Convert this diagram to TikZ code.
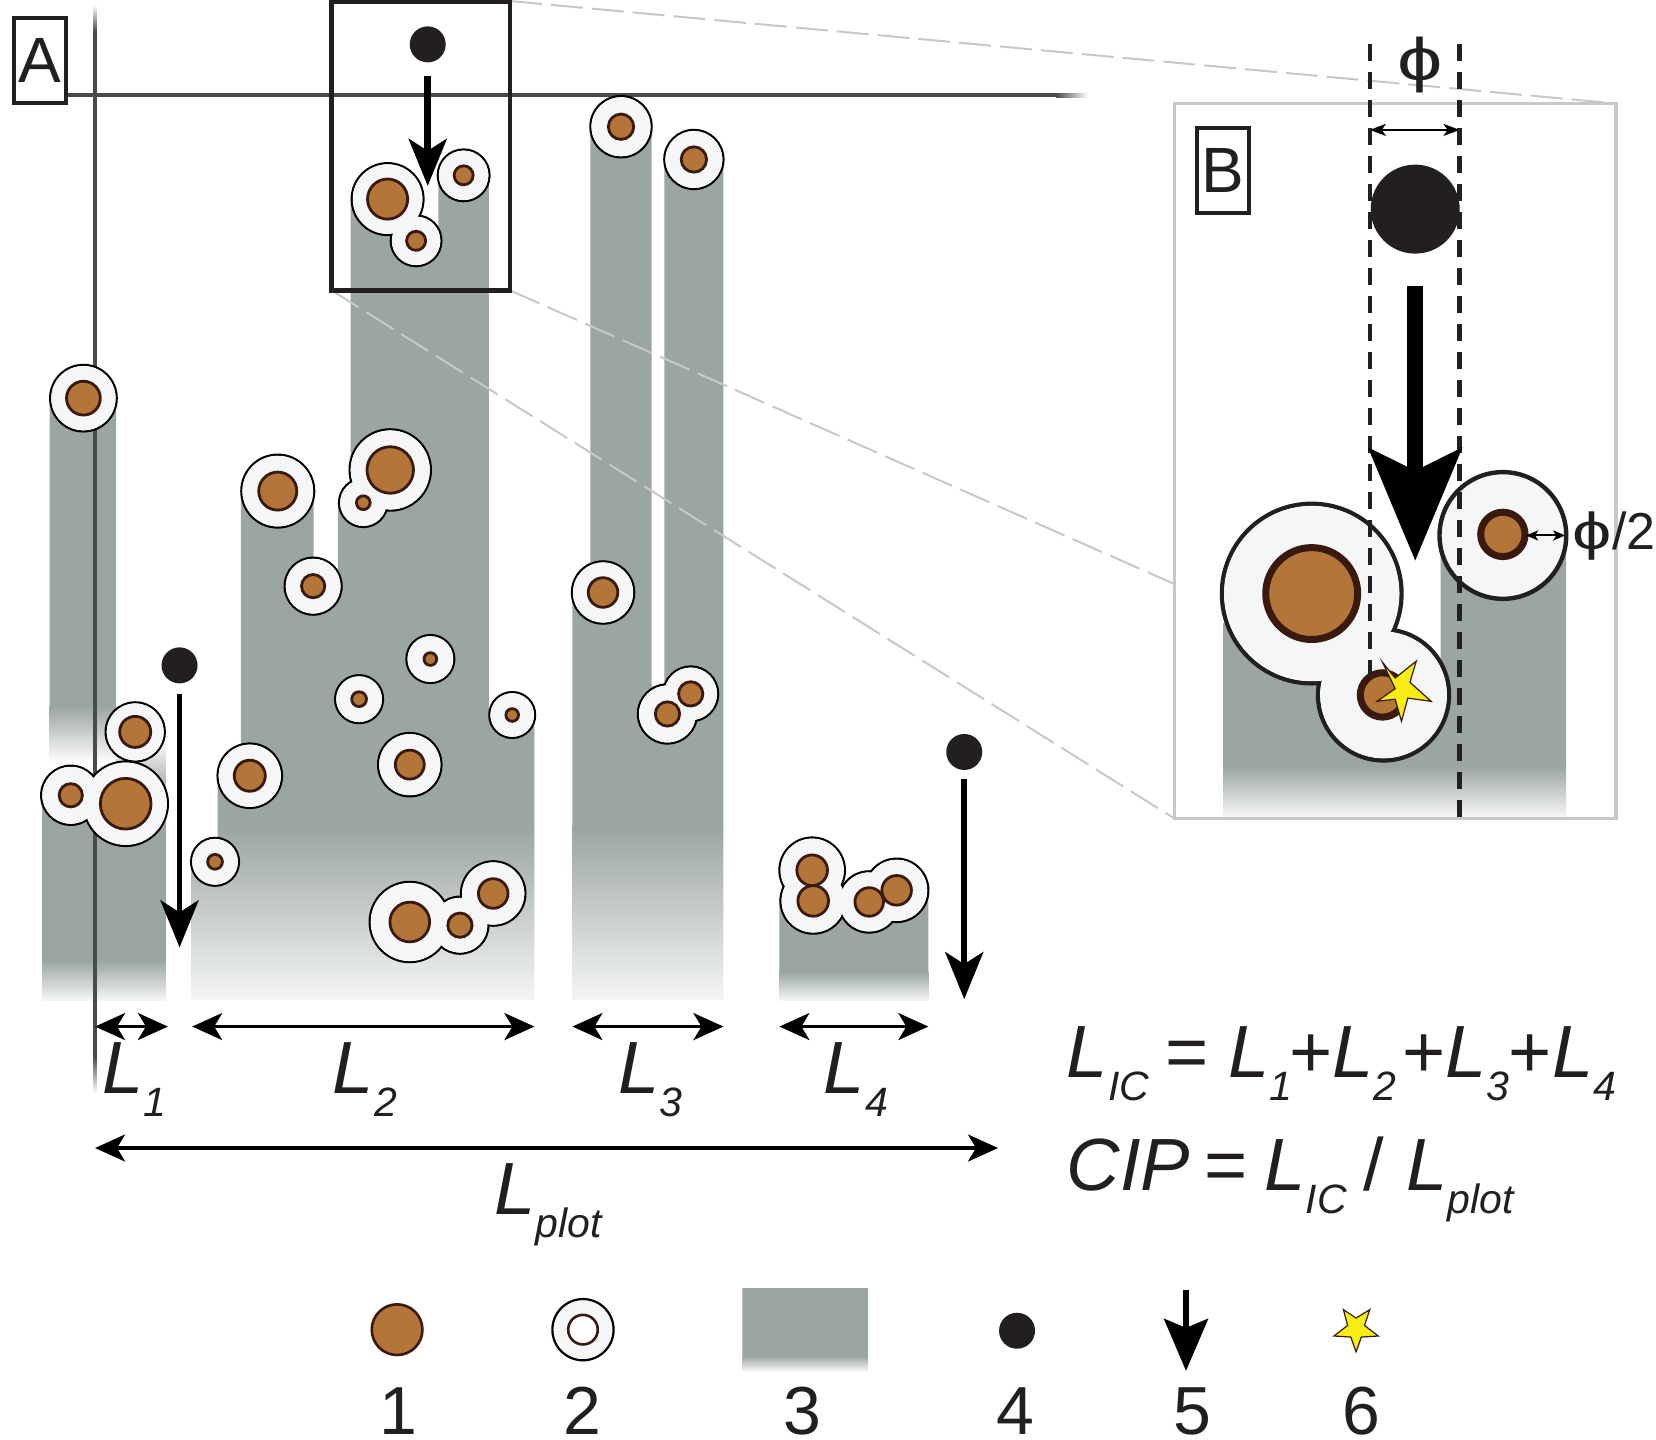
\documentclass[tikz,border=0pt]{standalone}
\usepackage{fontspec}
\setmainfont{Liberation Sans}
\usetikzlibrary{arrows.meta}
\definecolor{colgray}{HTML}{9BA5A1}
\definecolor{colfade}{HTML}{F4F6F5}
\definecolor{bubfill}{HTML}{F4F6F8}
\definecolor{brownc}{HTML}{B37538}
\definecolor{brownd}{HTML}{3A1A0E}
\definecolor{ballc}{HTML}{231F20}
\definecolor{linec}{HTML}{4A4A4A}
\definecolor{dashc}{HTML}{C8C8C8}
\definecolor{starc}{HTML}{F7EC13}
\newcommand{\Ls}[1]{\textit{L}\raisebox{-23pt}{\fontsize{41}{41}\selectfont\textit{#1}}}
\newcommand{\col}[4][colfade]{\begin{scope}\clip #2;
  \fill[colgray] (0,0) rectangle (1568,#3+1);
  \shade[top color=colgray,bottom color=#1] (0,#3) rectangle (1568,#4);
  \end{scope}}
\newcommand{\phiglyph}{\scalebox{1.35}[1]{ϕ}}
\tikzset{
  outer/.style={draw=black,line width=2.2pt,fill=bubfill},
  outerfill/.style={fill=bubfill},
  inner/.style={draw=brownd,line width=2.8pt,fill=brownc},
  ball/.style={circle,fill=ballc,inner sep=0pt},
  dimarrow/.style={line width=3.2pt,{Stealth[length=30pt,width=27pt,inset=8pt]}-{Stealth[length=30pt,width=27pt,inset=8pt]}},
  downarrow/.style={line width=5.6pt,-{Stealth[length=47pt,width=38pt,inset=12pt]}},
  thinarrow/.style={line width=2pt,{Stealth[length=16pt,width=12pt,inset=4pt]}-{Stealth[length=16pt,width=12pt,inset=4pt]}},
  biglabel/.style={font=\fontsize{74}{74}\selectfont,anchor=base west,inner sep=0pt,text=ballc},
  numlabel/.style={font=\fontsize{68}{68}\selectfont,anchor=base,inner sep=0pt,text=ballc},
  panel/.style={draw=ballc,fill=white,inner sep=0pt,font=\fontsize{64}{64}\selectfont,text=ballc},
  leader/.style={draw=dashc,line width=2pt,dash pattern=on 32pt off 9pt},
  phidash/.style={draw=ballc,line width=4.6pt,dash pattern=on 17pt off 11pt},
  phitext/.style={font=\fontsize{60}{60}\selectfont,inner sep=0pt,text=ballc},
}
\begin{document}
\begin{tikzpicture}[x=1.0561pt,y=-1.0561pt]
\useasboundingbox (0,0) rectangle (1568,1363);
% columns
\col[white]{(47,377) rectangle (110,724)}{669}{722}
\col{(40,750) -- (157,750) -- (157,947) -- (40,947) -- cycle}{909}{947}
\shade[top color=white,bottom color=colgray] (110,700) rectangle (157,751);
\col{(332,190) -- (394,190) -- (394,228) -- (415,228) -- (415,166) -- (463,166) -- (463,677) -- (506,677) -- (506,947) -- (181,947) -- (181,816) -- (206,816) -- (206,734) -- (228,734) -- (228,465) -- (297,465) -- (297,555) -- (320,555) -- (320,476) -- (332,476) -- cycle}{783}{947}
\col{(559,120) -- (617,120) -- (617,650) -- (629,650) -- (629,151) -- (685,151) -- (685,947) -- (542,947) -- (542,561) -- (559,561) -- cycle}{783}{947}
\col{(738,850) rectangle (879,947)}{920}{947}
% leaders
\draw[leader] (483,1) -- (1530,98);
\draw[leader] (483,275) -- (1112,553);
\draw[leader] (314,275) -- (1112,775);
% axis lines
\fill[linec] (88.2,30) rectangle (91.8,1000);
\shade[top color=white,bottom color=linec] (88.2,5) rectangle (91.8,30);
\shade[top color=linec,bottom color=white] (88.2,1000) rectangle (91.8,1035);
\fill[linec] (30,88.5) rectangle (1000,92.3);
\shade[left color=linec,right color=white] (1000,88.5) rectangle (1030,92.3);
% zoom box
\draw[ballc,line width=4.6pt] (314,1.5) rectangle (483,275);
% bubbles (outlines first so clusters merge)
\def\bubbles{79/377/31.5/16, 367/188.5/34/19, 394/228/24/9, 439/166/24.5/9, 369.5/445/38.5/22, 344/476/23/6.5, 263/465/34.5/18, 296.5/555/27/11, 407.5/624/22.7/6, 340/662/22.7/7, 485/677/21.7/6, 388/724/30/13.7, 236.5/734.5/30.5/14.7, 203.6/816/22.7/7, 128/693/28/14.7, 119/761/40/24, 67/753/28/11, 388/873/38/18.8, 435.5/876/27/11.5, 467/846/30.5/14, 588/120/29/12, 657/151/28/12, 571/561/29.5/14, 654/657/26/11.5, 632/676/28/11.5, 769/824/31/14.5, 770/853/31/14.5, 823/854/29/13.5, 849/843/30/14}
\foreach \x/\y/\R/\r in \bubbles {\draw[outer] (\x,\y) circle (\R);}
\foreach \x/\y/\R/\r in \bubbles {\fill[outerfill] (\x,\y) circle (\R-1);}
\foreach \x/\y/\R/\r in \bubbles {\draw[inner] (\x,\y) circle (\r);}
% balls and down arrows
\node[ball,minimum size=36pt] (b1) at (405,42) {};
\coordinate (a1s) at (405,72); \coordinate (a1e) at (405,176);
\draw[downarrow,line width=6.5pt] (a1s) -- (a1e);
\node[ball,minimum size=36pt] (b2) at (170,630) {};
\coordinate (a2s) at (170,657); \coordinate (a2e) at (170,897);
\draw[downarrow] (a2s) -- (a2e);
\node[ball,minimum size=36pt] (b3) at (913,712) {};
\coordinate (a3s) at (913,738); \coordinate (a3e) at (913,946);
\draw[downarrow] (a3s) -- (a3e);
% dimension arrows
\coordinate (d1a) at (90,972); \coordinate (d1b) at (159,972);
\coordinate (d2a) at (182,972); \coordinate (d2b) at (506,972);
\coordinate (d3a) at (542,972); \coordinate (d3b) at (685,972);
\coordinate (d4a) at (738,972); \coordinate (d4b) at (879,972);
\coordinate (d5a) at (90,1087); \coordinate (d5b) at (945,1087);
\draw[dimarrow] (d1a) -- (d1b);
\draw[dimarrow] (d2a) -- (d2b);
\draw[dimarrow] (d3a) -- (d3b);
\draw[dimarrow] (d4a) -- (d4b);
\draw[dimarrow] (d5a) -- (d5b);
% L labels
\node[biglabel] (l1) at (97,1035) {\Ls{1}};
\node[biglabel] (l2) at (315,1035) {\Ls{2}};
\node[biglabel] (l3) at (585,1035) {\Ls{3}};
\node[biglabel] (l4) at (780,1035) {\Ls{4}};
\node[biglabel] (lp) at (468,1150) {\Ls{plot}};
\node[biglabel] (f1) at (1010,1020) {\Ls{IC}\kern16pt=\kern20pt\Ls{1}\kern-3pt+\Ls{2}\kern6pt+\Ls{3}\kern-1pt+\Ls{4}};
\node[biglabel] (f2) at (1010,1127) {\textit{CIP}\kern14pt=\kern17pt\Ls{IC}\kern17pt/\kern22pt\Ls{plot}};
% panel labels
\node[panel,minimum width=52pt,minimum height=85pt,line width=4pt] (A) at (37.5,57.5) {A};
% panel B
\draw[draw=dashc,line width=3.6pt,fill=white] (1112,98) rectangle (1530,775);
\col{(1158,590) -- (1310,590) -- (1310,658) -- (1364,658) -- (1364,507) -- (1483,507) -- (1483,775) -- (1158,775) -- cycle}{725}{773}
\node[panel,minimum width=52pt,minimum height=85pt,line width=3.4pt] (B) at (1158,161.5) {B};
\foreach \x/\y/\R in {1242/562/85, 1310/658/62, 1423/507/60} {\draw[draw=ballc,line width=4.4pt,fill=bubfill] (\x,\y) circle (\R);}
\foreach \x/\y/\R in {1242/562/84, 1310/658/61} {\fill[bubfill] (\x,\y) circle (\R-1);}
\foreach \x/\y/\r in {1242/562/43.5, 1309/658/21, 1423/506/21} {\draw[draw=brownd,line width=7pt,fill=brownc] (\x,\y) circle (\r);}
\coordinate (p1t) at (1297,42); \coordinate (p1b) at (1297,640);
\coordinate (p2t) at (1382,42); \coordinate (p2b) at (1382,777);
\draw[phidash] (p1t) -- (p1b);
\draw[phidash] (p2t) -- (p2b);
\node[ball,minimum size=89pt] (bigball) at (1340,198) {};
\coordinate (ba) at (1340,271); \coordinate (bb) at (1340,531);
\draw[line width=15.5pt,-{Stealth[length=112pt,width=92pt,inset=22pt]},black] (ba) -- (bb);
\draw[fill=starc,draw=brownd,line width=1.2pt,line join=miter] (1309,627) -- (1321,642) -- (1341,626) -- (1335,646) -- (1355,664) -- (1333,661) -- (1327,683) -- (1321,662) -- (1304,664) -- (1321,652) -- cycle;
\coordinate (ph1) at (1297,123); \coordinate (ph2) at (1382,123);
\draw[thinarrow] (ph1) -- (ph2);
\coordinate (ph3) at (1445,507); \coordinate (ph4) at (1482,507);
\draw[thinarrow,{Stealth[length=12pt,width=10pt,inset=3pt]}-{Stealth[length=12pt,width=10pt,inset=3pt]}] (ph3) -- (ph4);
\node[phitext] (phi) at (1345,62) {\phiglyph};
\node[phitext,anchor=base west,font=\fontsize{52}{52}\selectfont] (phih) at (1489,520) {\phiglyph/2};
% legend
\draw[draw=brownd,line width=2.6pt,fill=brownc] (376,1259) circle (24);
\draw[outer] (552,1259) circle (29);
\draw[draw=brownd,line width=2.6pt,fill=white] (552,1259) circle (14);
\col{(703,1220) rectangle (822,1298)}{1284}{1298}
\node[ball,minimum size=36pt] (b4) at (963,1260) {};
\coordinate (a5s) at (1123,1221); \coordinate (a5e) at (1123,1298);
\draw[line width=5.5pt,-{Stealth[length=52pt,width=44pt,inset=9pt]}] (a5s) -- (a5e);
\draw[fill=starc,draw=brownd,line width=1.2pt] (1272,1240) -- (1284,1248) -- (1297,1240) -- (1292,1255) -- (1305,1265) -- (1289,1266) -- (1284,1280) -- (1279,1266) -- (1263,1265) -- (1276,1255) -- cycle;
\node[numlabel] (n1) at (377,1358) {1};
\node[numlabel] (n2) at (551,1358) {2};
\node[numlabel] (n3) at (760,1358) {3};
\node[numlabel] (n4) at (961,1358) {4};
\node[numlabel] (n5) at (1129,1358) {5};
\node[numlabel] (n6) at (1289,1358) {6};
\end{tikzpicture}
\end{document}
